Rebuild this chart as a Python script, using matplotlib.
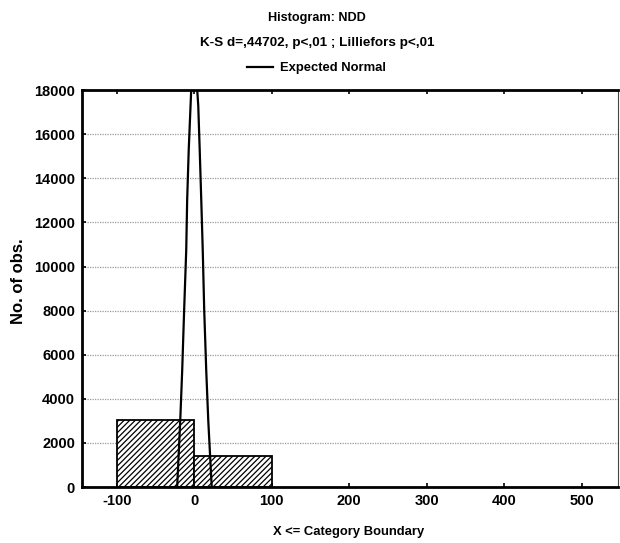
import matplotlib
matplotlib.use("Agg")
import matplotlib.pyplot as plt

# histogram bins (left edge, width, count)
bin_left = [-100, 0]
bin_width = [100, 100]
bin_count = [3050, 1400]

# expected normal curve
curve_x = [-22, -18, -15.5, -13, -10.3, -9.1, -7.1, -3.9, 0, 3.9, 5.2, 7.1, 9.1, 11, 12.9, 15.5, 18.1, 22.6]
curve_y = [0, 3040, 5300, 8025, 10750, 13010, 15280, 18000, 19500, 18000, 17300, 15280, 13010, 10750, 8025, 5300, 3040, 0]

yticks = list(range(0, 18001, 2000))
xticks = [-100, 0, 100, 200, 300, 400, 500]

plt.rcParams['font.family'] = ['Liberation Sans', 'DejaVu Sans']
plt.rcParams['font.weight'] = 'bold'
plt.rcParams['hatch.linewidth'] = 0.9
plt.rcParams['axes.unicode_minus'] = False

fs = 10.5
fig = plt.figure(figsize=(6.2, 5.43), dpi=100)
ax = fig.add_axes([0.132, 0.103, 0.865, 0.731])

ax.bar(bin_left, bin_count, width=bin_width, align='edge', color='white',
       edgecolor='black', hatch='//////', linewidth=1.3, zorder=2)
line, = ax.plot(curve_x, curve_y, color='black', linewidth=1.6, zorder=3)

ax.set_xlim(-145, 547)
ax.set_ylim(0, 18000)
ax.set_xticks(xticks)
ax.set_yticks(yticks)
ax.yaxis.grid(True, linestyle=(0, (1, 1)), color='#9a9a9a', linewidth=0.9, zorder=0)
ax.set_axisbelow(True)

ax.tick_params(direction='in', length=3, width=1.2, labelsize=fs, top=True, right=False, pad=5)
for lab in ax.get_xticklabels() + ax.get_yticklabels():
    lab.set_fontweight('bold')

for side in ['left', 'bottom', 'top']:
    ax.spines[side].set_linewidth(2.0)
ax.spines['right'].set_linewidth(0.8)
ax.spines['right'].set_color('#444444')

ax.set_ylabel('No. of obs.', fontsize=12, fontweight='bold', va='center')
ax.yaxis.set_label_coords(-0.118, 0.519)
ax.set_xlabel('X <= Category Boundary', fontsize=9.4, fontweight='bold', va='center')
ax.xaxis.set_label_coords(0.497, -0.113)

fig.text(0.511, 1 - 18 / 543, 'Histogram: NDD', ha='center', va='center', fontsize=9.1, fontweight='bold')
fig.text(0.511, 1 - 43 / 543, 'K-S d=,44702, p<,01 ; Lilliefors p<,01', ha='center', va='center',
         fontsize=9.7, fontweight='bold')
fig.legend([line], ['Expected Normal'], loc='center', bbox_to_anchor=(0.510, 1 - 68 / 543),
           frameon=False, handlelength=2.0, handletextpad=0.5, borderpad=0,
           prop={'weight': 'bold', 'size': 9.4})

fig.savefig('out.png', dpi=100)
